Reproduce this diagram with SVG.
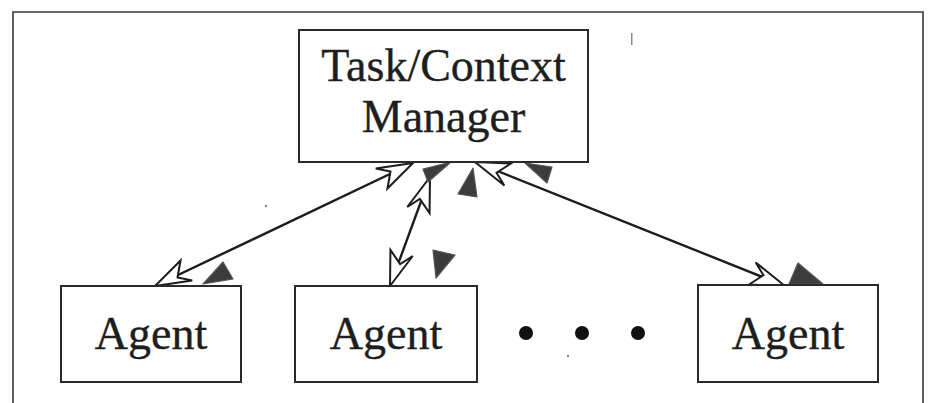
<svg xmlns="http://www.w3.org/2000/svg" width="931" height="403" viewBox="0 0 931 403">
  <style>
    .frame { fill: none; stroke: #3a3a3a; stroke-width: 1.6; }
    .box { fill: #ffffff; stroke: #2a2a2a; stroke-width: 2; }
    .label { font-family: "Liberation Serif", "Times New Roman", serif; font-size: 46px; fill: #1e1e1e; stroke: #1e1e1e; stroke-width: 0.35; text-anchor: middle; }
    .link { fill: none; stroke: #1c1c1c; stroke-width: 2.4; marker-start: url(#openHead); marker-end: url(#openHead); }
    .shadow { fill: #3c3c3c; stroke: #555; stroke-width: 1.2; stroke-linejoin: round; }
    .dot { fill: #111111; }
    .speck { fill: #8a8a8a; }
  </style>
  <defs>
    <!-- hollow arrowhead with a kinked base, tip at the origin pointing along +x -->
    <marker id="openHead" viewBox="-40 -16 44 32" markerWidth="44" markerHeight="32" refX="0" refY="0" markerUnits="userSpaceOnUse" orient="auto-start-reverse">
      <path d="M0,0 L-36,-11 L-24,-2 L-34,12 Z" fill="#ffffff" stroke="#1c1c1c" stroke-width="2" stroke-linejoin="miter"/>
    </marker>
  </defs>

  <rect width="931" height="403" fill="#ffffff"/>

  <!-- enclosing frame, open at the bottom -->
  <path class="frame" d="M13,403 V12 H923 V403"/>

  <!-- connectors -->
  <g id="connectors">
    <line class="link" x1="413" y1="163" x2="155" y2="286"/>
    <line class="link" x1="430" y1="177" x2="390" y2="286"/>
    <line class="link" x1="475" y1="162" x2="785" y2="286"/>
    <!-- dark offset heads -->
    <polygon class="shadow" points="223,262 203,284 233,279"/>
    <polygon class="shadow" points="451,162 423,169 428,182"/>
    <polygon class="shadow" points="473,168 458,194 477,197"/>
    <polygon class="shadow" points="433,250 455,255 436,278"/>
    <polygon class="shadow" points="525,163 552,167 547,183"/>
    <polygon class="shadow" points="798,263 789,284 823,284"/>
  </g>

  <g id="manager">
    <rect class="box" x="299" y="30" width="289" height="132"/>
    <text class="label" x="443.5" y="81">Task/Context</text>
    <text class="label" x="443.5" y="132">Manager</text>
  </g>

  <g id="agent1">
    <rect class="box" x="61" y="286" width="180" height="96"/>
    <text class="label" x="151" y="349">Agent</text>
  </g>

  <g id="agent2">
    <rect class="box" x="295" y="286" width="182" height="96"/>
    <text class="label" x="386" y="349">Agent</text>
  </g>

  <g id="agent3">
    <rect class="box" x="698" y="285" width="180" height="97"/>
    <text class="label" x="788" y="349">Agent</text>
  </g>

  <g id="ellipsis">
    <circle class="dot" cx="526" cy="333" r="7"/>
    <circle class="dot" cx="582" cy="333" r="7"/>
    <circle class="dot" cx="638" cy="333" r="7"/>
  </g>

  <!-- small stray marks -->
  <rect class="speck" x="631" y="33" width="1.5" height="12"/>
  <circle class="speck" cx="266" cy="206" r="1.2"/>
  <circle class="speck" cx="568" cy="356" r="1.2"/>
</svg>
